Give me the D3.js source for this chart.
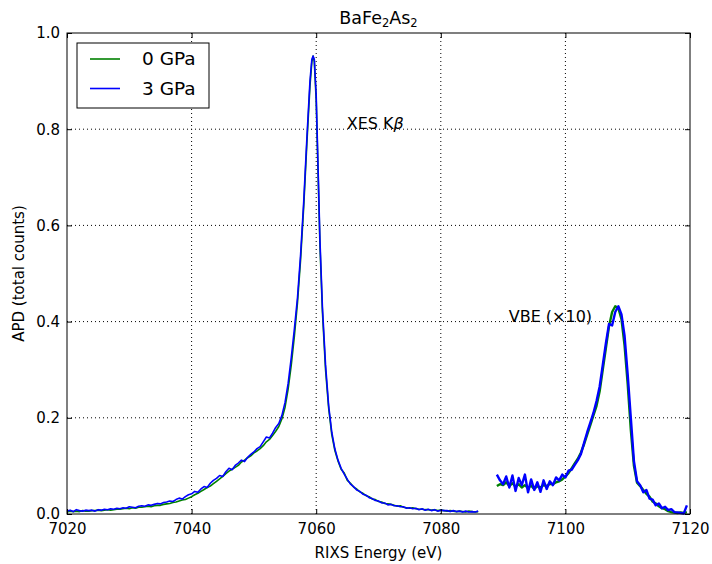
<!DOCTYPE html>
<html>
<head>
<meta charset="utf-8">
<script src="https://cdn.jsdelivr.net/npm/d3@7"></script>
<style>
  body { margin: 0; background: #fff; }
  svg { display: block; font-family: "DejaVu Sans", sans-serif; }
  .grid line { stroke: #000; stroke-dasharray: 1,3; stroke-width: 1; }
  .axis path { display: none; }
  .axis line { stroke: #000; }
  .axis text { font-size: 15px; fill: #000; font-family: "DejaVu Sans", sans-serif; }
</style>
</head>
<body>
<div id="plot"></div>
<script>
// XES K-beta region (energy in eV)
const xesEnergy = [
    7020, 7020.5, 7021, 7021.5, 7022, 7022.5, 7023, 7023.5,
    7024, 7024.5, 7025, 7025.5, 7026, 7026.5, 7027, 7027.5,
    7028, 7028.5, 7029, 7029.5, 7030, 7030.5, 7031, 7031.5,
    7032, 7032.5, 7033, 7033.5, 7034, 7034.5, 7035, 7035.5,
    7036, 7036.5, 7037, 7037.5, 7038, 7038.5, 7039, 7039.5,
    7040, 7040.5, 7041, 7041.5, 7042, 7042.5, 7043, 7043.5,
    7044, 7044.5, 7045, 7045.5, 7046, 7046.5, 7047, 7047.5,
    7048, 7048.5, 7049, 7049.5, 7050, 7050.5, 7051, 7051.5,
    7052, 7052.5, 7053, 7053.5, 7054, 7054.5,
    7055, 7055.5, 7056, 7056.5, 7057, 7057.5, 7058, 7058.5, 7059, 7059.3, 7059.5,
    7059.7, 7060, 7060.3, 7060.6, 7061, 7061.5, 7062, 7062.5, 7063, 7063.5,
    7064, 7064.5, 7065, 7065.5, 7066, 7066.5, 7067, 7067.5, 7068, 7068.5,
    7069, 7069.5, 7070, 7070.5, 7071, 7071.5, 7072, 7072.5, 7073, 7073.5,
    7074, 7074.5, 7075, 7075.5, 7076, 7076.5, 7077, 7077.5, 7078, 7078.5,
    7079, 7079.5, 7080, 7080.5, 7081, 7081.5, 7082, 7082.5, 7083, 7083.5,
    7084, 7084.5, 7085, 7085.5, 7086
];
const xes0GPa = [
    .004, .006, .005, .006, .005, .007, .006, .006,
    .007, .007, .008, .007, .008, .009, .008, .009,
    .010, .010, .011, .012, .011, .013, .012, .014,
    .014, .015, .016, .015, .017, .018, .018, .020,
    .021, .022, .024, .025, .027, .029, .030, .033,
    .036, .040, .043, .047, .051, .055, .058, .063,
    .068, .073, .078, .084, .089, .093, .097, .101,
    .108, .112, .117, .121, .127, .131, .136, .142,
    .150, .155, .163, .172, .182, .198,
    .222, .260, .31, .37, .44, .53, .64, .77, .89, .94, .952,
    .94, .86, .71, .56, .42, .30, .22, .165, .132, .110,
    .093, .085, .070, .064, .056, .052, .046, .043, .038, .036,
    .031, .030, .026, .025, .022, .021, .020, .018, .016, .017,
    .014, .013, .012, .013, .011, .010, .010, .009, .009, .008,
    .009, .007, .008, .007, .006, .007, .006, .005, .006, .005,
    .004, .006, .005, .004, .005
];
const xes3GPa = [
    .006, .008, .005, .009, .007, .006, .008, .007,
    .008, .006, .009, .008, .010, .009, .011, .010,
    .012, .011, .013, .012, .015, .014, .013, .016,
    .017, .016, .019, .018, .020, .022, .021, .024,
    .025, .027, .026, .030, .033, .031, .036, .040,
    .042, .047, .045, .052, .057, .055, .064, .070,
    .074, .080, .078, .088, .095, .092, .101, .106,
    .112, .109, .118, .124, .129, .136, .140, .150,
    .160, .158, .168, .180, .188, .205,
    .232, .272, .325, .385, .45, .54, .65, .78, .90, .945, .952,
    .945, .87, .72, .57, .43, .31, .225, .17, .135, .112,
    .095, .083, .072, .062, .057, .050, .047, .041, .039, .034,
    .032, .028, .027, .023, .023, .019, .020, .017, .017, .015,
    .015, .012, .013, .011, .012, .009, .011, .008, .010, .007,
    .009, .006, .008, .007, .007, .005, .007, .005, .006, .004,
    .006, .004, .005, .004, .006
];

// Valence band emission region (x10)
const vbeEnergy = [
    7089, 7089.5, 7090, 7090.5, 7091, 7091.5, 7092, 7092.5, 7093, 7093.5,
    7094, 7094.5, 7095, 7095.5, 7096, 7096.5, 7097, 7097.5, 7098, 7098.5,
    7099, 7099.5, 7100, 7100.5, 7101, 7101.5, 7102, 7102.5, 7103, 7103.5,
    7104, 7104.5, 7105, 7105.5, 7106, 7106.5, 7107, 7107.5, 7108, 7108.5,
    7109, 7109.5, 7110, 7110.5, 7111, 7111.5, 7112, 7112.5, 7113, 7113.5,
    7114, 7114.5, 7115, 7115.5, 7116, 7116.5, 7117, 7117.5, 7118, 7118.5,
    7119, 7119.5
];
const vbe0GPa = [
    .058, .062, .060, .066, .058, .064, .057, .062, .055, .060,
    .054, .059, .052, .058, .055, .060, .058, .063, .062, .066,
    .068, .072, .078, .085, .095, .105, .115, .128, .145, .165,
    .185, .205, .225, .255, .300, .345, .390, .420, .432, .428,
    .405, .350, .270, .175, .100, .065, .058, .050, .042, .036,
    .026, .022, .016, .012, .010, .006, .004, .003, .002, .003,
    .002, .004
];
const vbe3GPa = [
    .082, .070, .062, .078, .055, .080, .048, .075, .060, .082,
    .045, .072, .050, .066, .046, .070, .052, .068, .060, .076,
    .070, .082, .076, .090, .092, .102, .112, .125, .148, .170,
    .190, .210, .235, .265, .310, .355, .395, .392, .420, .432,
    .415, .370, .290, .200, .110, .068, .060, .045, .050, .032,
    .030, .018, .022, .012, .015, .008, .010, .004, .003, .002,
    .001, .018
];

const xTicks = [7020, 7040, 7060, 7080, 7100, 7120];
const yTicks = [0.0, 0.2, 0.4, 0.6, 0.8, 1.0];

const series = [
    { name: '0 GPa', color: '#008000', xes: xes0GPa, vbe: vbe0GPa },
    { name: '3 GPa', color: '#0000ff', xes: xes3GPa, vbe: vbe3GPa }
];

const W = 712, H = 564;
const margin = { top: 33, right: 22, bottom: 50, left: 67 };
const width = W - margin.left - margin.right;
const height = H - margin.top - margin.bottom;

const svg = d3.select('#plot').append('svg')
    .attr('width', W)
    .attr('height', H);

const g = svg.append('g')
    .attr('transform', `translate(${margin.left},${margin.top})`);

const x = d3.scaleLinear().domain([7020, 7120]).range([0, width]);
const y = d3.scaleLinear().domain([0, 1]).range([height, 0]);

// Grid
const grid = g.append('g').attr('class', 'grid');
grid.selectAll('.gx')
    .data(xTicks.slice(1, -1))
    .join('line')
    .attr('x1', d => x(d)).attr('x2', d => x(d))
    .attr('y1', 0).attr('y2', height);
grid.selectAll('.gy')
    .data(yTicks.slice(1, -1))
    .join('line')
    .attr('y1', d => y(d)).attr('y2', d => y(d))
    .attr('x1', 0).attr('x2', width);

// Lines
const line = d3.line()
    .x(d => x(d[0]))
    .y(d => y(d[1]));

series.forEach(s => {
    g.append('path')
        .datum(d3.zip(xesEnergy, s.xes))
        .attr('fill', 'none')
        .attr('stroke', s.color)
        .attr('stroke-width', 1.6)
        .attr('stroke-linejoin', 'round')
        .attr('d', line);
    g.append('path')
        .datum(d3.zip(vbeEnergy, s.vbe))
        .attr('fill', 'none')
        .attr('stroke', s.color)
        .attr('stroke-width', 2.4)
        .attr('stroke-linejoin', 'round')
        .attr('d', line);
});

// Axes, ticks pointing inward
g.append('g')
    .attr('class', 'axis')
    .attr('transform', `translate(0,${height})`)
    .call(d3.axisBottom(x).tickValues(xTicks).tickFormat(d3.format('d'))
        .tickSizeInner(-5).tickSizeOuter(0).tickPadding(9));
g.append('g')
    .attr('class', 'axis')
    .call(d3.axisTop(x).tickValues(xTicks).tickFormat('')
        .tickSizeInner(-5).tickSizeOuter(0));
g.append('g')
    .attr('class', 'axis')
    .call(d3.axisLeft(y).tickValues(yTicks).tickFormat(d3.format('.1f'))
        .tickSizeInner(-5).tickSizeOuter(0).tickPadding(7));
g.append('g')
    .attr('class', 'axis')
    .attr('transform', `translate(${width},0)`)
    .call(d3.axisRight(y).tickValues(yTicks).tickFormat('')
        .tickSizeInner(-5).tickSizeOuter(0));

// Frame
g.append('rect')
    .attr('width', width)
    .attr('height', height)
    .attr('fill', 'none')
    .attr('stroke', '#000')
    .attr('stroke-width', 1);

// Axis labels
svg.append('text')
    .attr('x', margin.left + width / 2)
    .attr('y', 558)
    .attr('text-anchor', 'middle')
    .style('font-size', '15px')
    .text('RIXS Energy (eV)');

svg.append('text')
    .attr('transform', `translate(24,${margin.top + height / 2}) rotate(-90)`)
    .attr('text-anchor', 'middle')
    .style('font-size', '15px')
    .text('APD (total counts)');

// Title
const title = svg.append('text')
    .attr('x', margin.left + width / 2)
    .attr('y', 24)
    .attr('text-anchor', 'middle')
    .style('font-size', '17.5px');
title.append('tspan').text('BaFe');
title.append('tspan').attr('dy', 3).style('font-size', '11.5px').text('2');
title.append('tspan').attr('dy', -3).text('As');
title.append('tspan').attr('dy', 3).style('font-size', '11.5px').text('2');

// Annotations
const ann1 = g.append('text')
    .attr('x', x(7064.9))
    .attr('y', y(0.8))
    .style('font-size', '16px');
ann1.append('tspan').text('XES K');
ann1.append('tspan').style('font-style', 'italic').text('β');

g.append('text')
    .attr('x', x(7090.9))
    .attr('y', y(0.4))
    .style('font-size', '16px')
    .text('VBE (×10)');

// Legend
const legend = g.append('g').attr('transform', 'translate(10,10)');
legend.append('rect')
    .attr('width', 132)
    .attr('height', 65)
    .attr('fill', '#fff')
    .attr('stroke', '#000')
    .attr('stroke-width', 1);
series.forEach((s, i) => {
    const ly = 16 + i * 29.5;
    legend.append('line')
        .attr('x1', 13).attr('x2', 43)
        .attr('y1', ly).attr('y2', ly)
        .attr('stroke', s.color)
        .attr('stroke-width', 1.6);
    legend.append('text')
        .attr('x', 65)
        .attr('y', ly + 6)
        .style('font-size', '18.5px')
        .text(s.name);
});
</script>
</body>
</html>
